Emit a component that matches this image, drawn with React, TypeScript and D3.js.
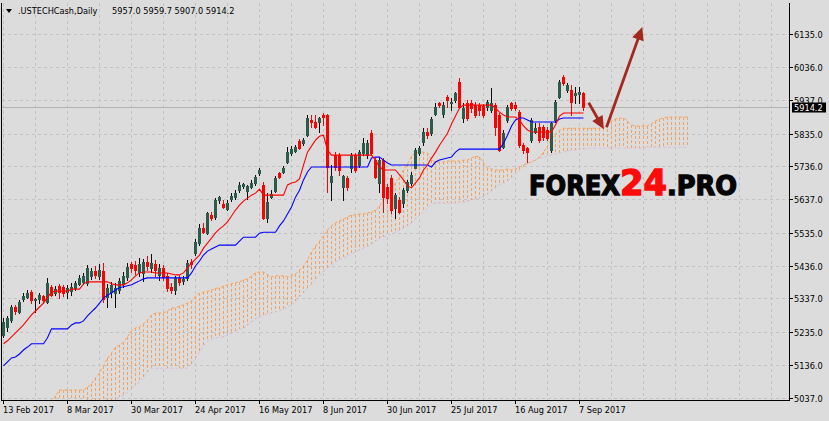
import React from 'react';
import * as d3 from 'd3';

const dateLabels = ["13 Feb 2017", "8 Mar 2017", "30 Mar 2017", "24 Apr 2017", "16 May 2017", "8 Jun 2017", "30 Jun 2017", "25 Jul 2017", "16 Aug 2017", "7 Sep 2017"];
const dateIndex = [0, 16, 32, 48, 64, 80, 96, 112, 128, 144];
const priceTicks = [5037, 5136, 5235, 5337, 5436, 5535, 5637, 5736, 5835, 5937, 6036, 6135];

const open = [5227, 5251, 5272, 5311, 5296, 5335, 5341, 5356, 5332, 5335,
  5344, 5326, 5372, 5353, 5375, 5372, 5356, 5359, 5369, 5381,
  5387, 5384, 5405, 5420, 5405, 5420, 5341, 5356, 5353, 5362,
  5381, 5402, 5441, 5438, 5417, 5414, 5447, 5429, 5441, 5408,
  5429, 5405, 5372, 5363, 5399, 5390, 5399, 5447, 5474, 5504,
  5550, 5535, 5589, 5583, 5634, 5622, 5607, 5637, 5643, 5664,
  5677, 5662, 5674, 5686, 5716, 5680, 5580, 5643, 5662, 5716,
  5719, 5749, 5776, 5782, 5812, 5806, 5830, 5876, 5870, 5870,
  5891, 5891, 5689, 5770, 5770, 5674, 5701, 5731, 5770, 5740,
  5776, 5770, 5836, 5755, 5686, 5755, 5674, 5701, 5610, 5634,
  5625, 5665, 5686, 5731, 5776, 5809, 5839, 5836, 5894, 5927,
  5894, 5945, 5927, 5936, 5990, 5882, 5927, 5927, 5921, 5921,
  5918, 5915, 5906, 5921, 5891, 5794, 5876, 5927, 5921, 5900,
  5800, 5791, 5815, 5840, 5855, 5855, 5846, 5785, 5876, 5945,
  6005, 5966, 5966, 5951, 5954, 5957.0];
const high = [5278, 5284, 5317, 5317, 5332, 5353, 5362, 5362, 5338, 5353,
  5347, 5399, 5378, 5375, 5381, 5378, 5378, 5384, 5390, 5408,
  5414, 5438, 5429, 5435, 5441, 5444, 5381, 5387, 5384, 5399,
  5417, 5444, 5447, 5450, 5459, 5456, 5465, 5471, 5453, 5441,
  5438, 5414, 5384, 5405, 5408, 5405, 5453, 5456, 5516, 5562,
  5565, 5598, 5598, 5640, 5646, 5634, 5634, 5655, 5664, 5689,
  5686, 5680, 5695, 5710, 5731, 5689, 5655, 5664, 5707, 5719,
  5737, 5794, 5797, 5800, 5818, 5821, 5891, 5891, 5891, 5885,
  5897, 5894, 5740, 5779, 5776, 5710, 5707, 5776, 5776, 5785,
  5821, 5815, 5845, 5761, 5761, 5761, 5683, 5710, 5655, 5643,
  5671, 5695, 5719, 5791, 5797, 5851, 5851, 5885, 5927, 5930,
  5930, 5951, 5942, 5960, 6002, 5927, 5936, 5936, 5930, 5927,
  5924, 5936, 5972, 5927, 5897, 5845, 5921, 5930, 5930, 5906,
  5806, 5794, 5882, 5867, 5867, 5861, 5855, 5870, 5936, 5996,
  6011, 5987, 5981, 5975, 5975, 5959.7];
const low = [5221, 5239, 5266, 5290, 5293, 5329, 5338, 5323, 5296, 5323,
  5323, 5323, 5344, 5347, 5338, 5344, 5338, 5347, 5363, 5378,
  5381, 5378, 5396, 5399, 5396, 5326, 5311, 5341, 5311, 5353,
  5372, 5393, 5417, 5411, 5405, 5390, 5423, 5417, 5405, 5393,
  5393, 5360, 5353, 5350, 5378, 5381, 5393, 5429, 5468, 5498,
  5535, 5532, 5574, 5577, 5625, 5610, 5604, 5631, 5637, 5659,
  5671, 5637, 5671, 5680, 5710, 5577, 5568, 5641, 5659, 5701,
  5716, 5746, 5770, 5779, 5788, 5800, 5827, 5855, 5852, 5840,
  5861, 5659, 5634, 5725, 5710, 5634, 5665, 5719, 5719, 5734,
  5770, 5761, 5770, 5701, 5659, 5598, 5625, 5595, 5580, 5595,
  5613, 5659, 5680, 5749, 5770, 5800, 5821, 5830, 5891, 5915,
  5885, 5915, 5906, 5930, 5912, 5870, 5876, 5900, 5885, 5891,
  5885, 5906, 5900, 5830, 5782, 5791, 5870, 5906, 5906, 5794,
  5776, 5749, 5809, 5836, 5809, 5815, 5815, 5779, 5870, 5942,
  5981, 5960, 5891, 5927, 5927, 5907.0];
const close = [5266, 5278, 5311, 5299, 5326, 5344, 5353, 5332, 5335, 5347,
  5332, 5384, 5347, 5366, 5356, 5353, 5369, 5372, 5384, 5399,
  5405, 5429, 5420, 5408, 5423, 5335, 5369, 5378, 5369, 5390,
  5405, 5432, 5429, 5423, 5441, 5447, 5435, 5444, 5423, 5429,
  5402, 5369, 5363, 5399, 5387, 5396, 5444, 5441, 5507, 5550,
  5538, 5595, 5580, 5634, 5643, 5613, 5625, 5646, 5655, 5680,
  5683, 5677, 5686, 5704, 5725, 5580, 5628, 5652, 5701, 5704,
  5731, 5779, 5788, 5794, 5791, 5815, 5882, 5870, 5855, 5882,
  5885, 5734, 5707, 5734, 5725, 5707, 5674, 5770, 5725, 5779,
  5806, 5806, 5776, 5704, 5755, 5643, 5640, 5604, 5649, 5598,
  5665, 5689, 5710, 5785, 5791, 5839, 5830, 5879, 5915, 5921,
  5921, 5936, 5930, 5957, 5915, 5912, 5882, 5912, 5891, 5906,
  5891, 5930, 5927, 5855, 5785, 5836, 5915, 5912, 5912, 5800,
  5785, 5779, 5876, 5852, 5815, 5824, 5821, 5867, 5930, 5990,
  5987, 5981, 5930, 5957, 5960, 5914.2];

const tenkan = [5200, 5209, 5221, 5233, 5245, 5257, 5272, 5287, 5299, 5311,
  5323, 5341, 5356, 5359, 5359, 5359, 5359, 5365, 5365, 5365,
  5381, 5387, 5387, 5387, 5387, 5387, 5387, 5381, 5378, 5378,
  5378, 5384, 5393, 5405, 5414, 5417, 5417, 5417, 5414, 5414,
  5414, 5414, 5411, 5408, 5408, 5414, 5429, 5444, 5456, 5468,
  5489, 5504, 5519, 5535, 5547, 5556, 5568, 5586, 5604, 5619,
  5631, 5640, 5649, 5655, 5667, 5649, 5649, 5649, 5649, 5649,
  5649, 5680, 5686, 5689, 5698, 5740, 5779, 5797, 5815, 5827,
  5830, 5785, 5770, 5770, 5770, 5770, 5770, 5770, 5770, 5770,
  5770, 5770, 5770, 5755, 5734, 5725, 5725, 5725, 5725, 5710,
  5695, 5677, 5671, 5686, 5701, 5725, 5740, 5761, 5779, 5800,
  5818, 5836, 5864, 5888, 5912, 5921, 5921, 5921, 5921, 5921,
  5921, 5921, 5921, 5912, 5900, 5891, 5885, 5885, 5885, 5876,
  5858, 5846, 5840, 5840, 5840, 5840, 5840, 5840, 5861, 5888,
  5897, 5897, 5897, 5897, 5897, 5897];
const kijun = [5133, 5145, 5157, 5160, 5169, 5181, 5190, 5200, 5200, 5200,
  5200, 5218, 5245, 5245, 5245, 5245, 5245, 5257, 5263, 5263,
  5269, 5284, 5296, 5308, 5323, 5338, 5347, 5353, 5363, 5369,
  5372, 5375, 5378, 5384, 5390, 5396, 5399, 5399, 5399, 5399,
  5399, 5399, 5399, 5399, 5399, 5399, 5399, 5414, 5435, 5450,
  5468, 5480, 5486, 5492, 5498, 5498, 5498, 5498, 5498, 5510,
  5522, 5522, 5522, 5522, 5534, 5537, 5537, 5537, 5537, 5556,
  5571, 5592, 5613, 5643, 5664, 5695, 5719, 5734, 5734, 5734,
  5734, 5734, 5734, 5734, 5734, 5734, 5734, 5734, 5734, 5734,
  5734, 5734, 5761, 5764, 5764, 5755, 5746, 5740, 5740, 5740,
  5740, 5740, 5740, 5740, 5740, 5740, 5740, 5734, 5749, 5755,
  5758, 5761, 5764, 5779, 5788, 5788, 5788, 5788, 5788, 5788,
  5788, 5788, 5788, 5788, 5788, 5806, 5830, 5858, 5876, 5882,
  5882, 5876, 5870, 5870, 5870, 5870, 5870, 5870, 5870, 5879,
  5882, 5882, 5882, 5882, 5882, 5882];
const spanA = [4910, 4919, 4928, 4937, 4946, 4955, 4964, 4973, 4982, 4994,
  5006, 5018, 5030, 5042, 5060, 5060, 5060, 5060, 5060, 5060,
  5060, 5069, 5078, 5097, 5112, 5133, 5157, 5172, 5190, 5196,
  5205, 5221, 5239, 5248, 5251, 5260, 5272, 5287, 5293, 5293,
  5293, 5299, 5308, 5308, 5314, 5317, 5323, 5329, 5344, 5353,
  5356, 5359, 5362, 5368, 5368, 5374, 5378, 5381, 5384, 5387,
  5393, 5396, 5405, 5414, 5417, 5417, 5408, 5402, 5405, 5405,
  5405, 5402, 5405, 5411, 5423, 5435, 5453, 5477, 5495, 5510,
  5526, 5544, 5556, 5565, 5571, 5577, 5583, 5589, 5589, 5592,
  5592, 5595, 5598, 5604, 5616, 5634, 5649, 5667, 5686, 5704,
  5725, 5743, 5767, 5776, 5779, 5779, 5776, 5755, 5749, 5749,
  5749, 5752, 5752, 5752, 5752, 5755, 5755, 5761, 5767, 5764,
  5746, 5731, 5728, 5725, 5725, 5725, 5728, 5725, 5728, 5734,
  5740, 5746, 5749, 5755, 5764, 5779, 5797, 5818, 5833, 5845,
  5851, 5851, 5851, 5851, 5851, 5851, 5851, 5851, 5851, 5851,
  5851, 5864, 5873, 5879, 5882, 5882, 5873, 5861, 5858, 5858,
  5858, 5858, 5864, 5873, 5879, 5882, 5885, 5885, 5885, 5885,
  5885, 5885];
const spanB = [4790, 4790, 4805, 4805, 4818, 4830, 4830, 4842, 4855, 4860,
  4872, 4880, 4880, 4893, 4905, 4910, 4922, 4930, 4930, 4945,
  4955, 4962, 4975, 4984, 4990, 5001, 5012, 5018, 5028, 5039,
  5045, 5054, 5063, 5075, 5084, 5097, 5115, 5126, 5126, 5126,
  5126, 5126, 5126, 5126, 5126, 5126, 5126, 5138, 5157, 5175,
  5193, 5208, 5214, 5217, 5220, 5220, 5226, 5232, 5238, 5244,
  5247, 5256, 5266, 5275, 5281, 5287, 5290, 5293, 5296, 5299,
  5305, 5311, 5317, 5329, 5341, 5353, 5368, 5381, 5393, 5405,
  5417, 5429, 5438, 5447, 5453, 5459, 5465, 5471, 5477, 5483,
  5489, 5495, 5501, 5510, 5519, 5522, 5528, 5531, 5537, 5543,
  5549, 5556, 5565, 5577, 5589, 5598, 5610, 5619, 5625, 5625,
  5625, 5625, 5625, 5625, 5628, 5628, 5631, 5634, 5637, 5640,
  5646, 5652, 5661, 5671, 5680, 5686, 5692, 5701, 5713, 5725,
  5734, 5743, 5749, 5755, 5761, 5764, 5767, 5770, 5773, 5776,
  5779, 5782, 5785, 5785, 5788, 5788, 5791, 5791, 5791, 5791,
  5791, 5791, 5791, 5791, 5791, 5791, 5791, 5791, 5791, 5791,
  5791, 5794, 5794, 5794, 5794, 5794, 5794, 5794, 5794, 5794,
  5794, 5794];

const symbolName = ".USTECHCash,Daily";
const lastPrice = 5914.2;
// arrows: [barIndex, price] pairs
const arrowStart = [[146.3, 5928], [150.75, 5854]];
const arrowEnd = [[150.1, 5848], [159.7, 6157]];

export default function App() {
  const W = 829, H = 421;
  const L = 2, R = 789, T = 3, B = 400;
  const x = d3.scaleLinear().domain([0, 145]).range([3.5, 583.5]);
  const y = d3.scaleLinear().domain([5037, 6135]).range([397.7, 34.3]);
  const font = "'DejaVu Sans', sans-serif";

  const lineGen = d3.line<number>().x((_, i) => x(i)).y((d) => y(d));

  const vGrid: number[] = [];
  for (let k = 0; x(8 * k) < R; k++) vGrid.push(Math.floor(x(8 * k)) + 0.5);

  const candles = open.map((o, i) => {
    const c = close[i];
    const up = c >= o;
    const cx = x(i);
    const yTop = Math.round(y(Math.max(o, c)));
    const yBot = Math.round(y(Math.min(o, c)));
    const hY = Math.round(y(high[i]));
    const lY = Math.round(y(low[i]));
    const col = up ? "#2d5b4b" : "#ff0000";
    const wick = up ? "#0c0c0c" : "#ff0000";
    return (
      <g key={i}>
        <line x1={Math.floor(cx) + 0.5} x2={Math.floor(cx) + 0.5} y1={hY} y2={lY + 1} stroke={wick} strokeWidth={1} />
        <rect x={Math.floor(cx) - 1} y={yTop} width={3} height={Math.max(1, yBot - yTop + 1)} fill={col} />
      </g>
    );
  });

  // cloud hatching: short vertical dashes (3px on, 2px off) between the two spans
  const hatch: JSX.Element[] = [];
  spanA.forEach((a, i) => {
    const b = spanB[i];
    const cx = Math.floor(x(i));
    const yTop = Math.round(y(Math.max(a, b)));
    const yBot = Math.min(Math.round(y(Math.min(a, b))), B + 2);
    const col = a >= b ? "#f4a460" : "#d8bfd8";
    for (let yy = yTop; yy < yBot; yy += 5) {
      hatch.push(<rect key={i + "-" + yy} x={cx} y={yy} width={1} height={Math.min(3, yBot - yy)} fill={col} />);
    }
  });

  const arrows = arrowStart.map((s, k) => {
    const x1 = x(s[0]), y1 = y(s[1]);
    const x2 = x(arrowEnd[k][0]), y2 = y(arrowEnd[k][1]);
    const dx = x2 - x1, dy = y2 - y1;
    const len = Math.sqrt(dx * dx + dy * dy);
    const ux = dx / len, uy = dy / len;
    const hl = 13, hw = 6;
    const bx = x2 - ux * hl, by = y2 - uy * hl;
    const pts = [[x2, y2], [bx - uy * hw, by + ux * hw], [bx + uy * hw, by - ux * hw]];
    return (
      <g key={k}>
        <line x1={x1} y1={y1} x2={bx + ux * 2} y2={by + uy * 2} stroke="#a3281e" strokeWidth={2.8} />
        <polygon points={pts.map((p) => p.join(",")).join(" ")} fill="#a3281e" />
      </g>
    );
  });

  const lastY = Math.round(y(lastPrice)) + 0.5;

  return (
    <svg width={W} height={H} style={{ position: "absolute", left: 0, top: 0, display: "block" }} xmlns="http://www.w3.org/2000/svg">
      <defs>
        <clipPath id="plot">
          <rect x={L} y={T} width={R - L} height={B - T} />
        </clipPath>
      </defs>
      <rect x={0} y={0} width={W} height={H} fill="#dcdcdc" />
      {/* grid */}
      <g shapeRendering="crispEdges">
        {vGrid.map((gx, i) => (
          <line key={"v" + i} x1={gx} x2={gx} y1={T} y2={B} stroke="#c3c3c3" strokeDasharray="3,3" />
        ))}
        {priceTicks.map((p, i) => (
          <line key={"h" + i} x1={L} x2={R} y1={Math.round(y(p)) + 0.5} y2={Math.round(y(p)) + 0.5} stroke="#c3c3c3" strokeDasharray="3,3" />
        ))}
      </g>
      <g clipPath="url(#plot)">
        <line x1={L} x2={R} y1={lastY} y2={lastY} stroke="#b4b4b4" strokeWidth={1} shapeRendering="crispEdges" />
        <g shapeRendering="crispEdges">{hatch}</g>
        <path d={lineGen(spanB) || ""} fill="none" stroke="#d8bfd8" strokeWidth={1} strokeDasharray="3,2" />
        <path d={lineGen(spanA) || ""} fill="none" stroke="#f4a460" strokeWidth={1} strokeDasharray="3,2" />
        <g shapeRendering="crispEdges">{candles}</g>
        <path d={lineGen(kijun) || ""} fill="none" stroke="#0000ff" strokeWidth={1.1} />
        <path d={lineGen(tenkan) || ""} fill="none" stroke="#ff0000" strokeWidth={1.1} />
      </g>
      {/* watermark */}
      <text x={529} y={195} fontFamily={font} fontWeight="bold" fontSize={27} fill="#050505" stroke="#050505" strokeWidth={1.4} textLength={91} lengthAdjust="spacingAndGlyphs">FOREX</text>
      <text x={620} y={195} fontFamily={font} fontWeight="bold" fontSize={35} fill="#ff0a0a" stroke="#ff0a0a" strokeWidth={1.4} textLength={47} lengthAdjust="spacingAndGlyphs">24</text>
      <text x={667} y={195} fontFamily={font} fontWeight="bold" fontSize={27} fill="#050505" stroke="#050505" strokeWidth={1.4} textLength={70} lengthAdjust="spacingAndGlyphs">.PRO</text>
      {arrows}
      {/* frame */}
      <g shapeRendering="crispEdges" stroke="#000" strokeWidth={1} fill="none">
        <line x1={1.5} x2={1.5} y1={T} y2={B + 1} />
        <line x1={R + 0.5} x2={R + 0.5} y1={T} y2={B + 1} />
        <line x1={1.5} x2={R + 0.5} y1={B + 0.5} y2={B + 0.5} />
      </g>
      {/* price axis */}
      <g fontFamily={font} fontSize={8.2} fill="#000">
        {priceTicks.map((p, i) => {
          const ty = Math.round(y(p)) + 0.5;
          return (
            <g key={i}>
              <line x1={R} x2={R + 4} y1={ty} y2={ty} stroke="#000" shapeRendering="crispEdges" />
              <text x={794} y={ty + 3}>{p.toFixed(1)}</text>
            </g>
          );
        })}
        <rect x={792} y={lastY - 5} width={34} height={10} fill="#000" />
        <text x={794} y={lastY + 3} fill="#fff">{lastPrice.toFixed(1)}</text>
      </g>
      {/* time axis */}
      <g fontFamily={font} fontSize={8.2} fill="#000">
        {dateIndex.map((di, i) => {
          const tx = Math.floor(x(di)) + 0.5;
          return (
            <g key={i}>
              <line x1={tx} x2={tx} y1={B} y2={B + 4} stroke="#000" shapeRendering="crispEdges" />
              <text x={tx - 0.5} y={413}>{dateLabels[i]}</text>
            </g>
          );
        })}
      </g>
      {/* header */}
      <polygon points="6,9 12,9 9,13" fill="#000" />
      <text x={18} y={14} fontFamily={font} fontSize={8.2} fill="#000">{symbolName}</text>
      <text x={112} y={14} fontFamily={font} fontSize={8.2} fill="#000">
        {[open[145], high[145], low[145], close[145]].map((v) => v.toFixed(1)).join(" ")}
      </text>
    </svg>
  );
}
